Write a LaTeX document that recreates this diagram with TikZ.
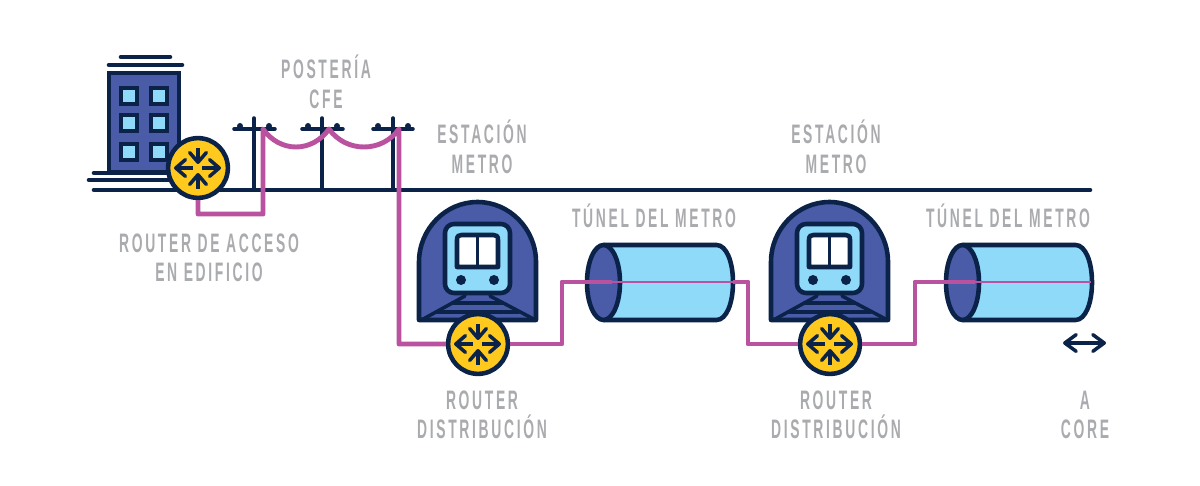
\documentclass[tikz,border=0pt]{standalone}
\usepackage{fontspec}
\usetikzlibrary{arrows.meta}
\newfontfamily\rotulofont[FakeStretch=0.52,LetterSpace=10]{Liberation Sans Bold}
\definecolor{marino}{HTML}{0B2349}
\definecolor{azul}{HTML}{4A5BA8}
\definecolor{celeste}{HTML}{8FD9F9}
\definecolor{ambar}{HTML}{FFC91D}
\definecolor{magenta}{HTML}{B9539F}
\definecolor{gris}{HTML}{A9ABAE}
\tikzset{
  trazo/.style={draw=marino,line width=2.6pt,line cap=round,line join=round},
  trazofino/.style={draw=marino,line width=2pt,line cap=round},
  ventana/.style={draw=marino,line width=2.6pt,fill=celeste},
  cable/.style={draw=magenta,line width=2.8pt,line join=round},
  cablefino/.style={draw=magenta,line width=1.6pt},
  rotulo/.style={align=center,text=gris,inner sep=0pt,font=\rotulofont\fontsize{15.2}{16.8}\selectfont},
  flechita/.style={draw=marino,line width=2pt,-{Straight Barb[length=5.5pt,width=9.5pt,round]}},
  flechadoble/.style={draw=marino,line width=2pt,{Straight Barb[length=6.5pt,width=9.5pt,round]}-{Straight Barb[length=6.5pt,width=9.5pt,round]}},
  router/.style={circle,draw=marino,fill=ambar,line width=2.6pt,minimum size=34pt,inner sep=0pt,
    path picture={
      \draw[flechita] ([shift={(0,-20)}]path picture bounding box.center) -- ([shift={(0,-4)}]path picture bounding box.center);
      \draw[flechita] ([shift={(0,21)}]path picture bounding box.center) -- ([shift={(0,5)}]path picture bounding box.center);
      \draw[flechita] ([shift={(-5,0)}]path picture bounding box.center) -- ([shift={(-24,0)}]path picture bounding box.center);
      \draw[flechita] ([shift={(4,0)}]path picture bounding box.center) -- ([shift={(23,0)}]path picture bounding box.center);
    }},
  estacion/.pic={
    \draw[trazo,fill=azul] (-58.5,320) -- (-58.5,262) .. controls (-58.5,229) and (-32,202) .. (0,202) .. controls (32,202) and (58.5,229) .. (58.5,262) -- (58.5,320) -- cycle;
    \draw[trazofino] (-12.5,296) -- (-56,320);
    \draw[trazofino] (12.5,296) -- (58,320);
    \draw[trazofino] (-25,303) -- (25,303);
    \draw[trazofino] (-41,312) -- (41,312);
    \draw[trazo,fill=celeste,rounded corners=0.18cm] (-32.5,224) rectangle (32.5,293);
    \draw[trazo,fill=white] (-20.5,267) -- (-20.5,240) .. controls (-20.5,236) and (-19,235) .. (-16,235) -- (16,235) .. controls (19,235) and (20.5,236) .. (20.5,240) -- (20.5,267) -- cycle;
    \draw[trazofino] (0,235) -- (0,267);
    \fill[marino] (-16.5,280) circle[radius=5];
    \fill[marino] (16.5,280) circle[radius=5];
  },
  tunel/.pic={
    \draw[trazo,fill=celeste] (0,245) -- (113,245) .. controls (123,245) and (129.5,262) .. (129.5,282.5) .. controls (129.5,303) and (123,320) .. (113,320) -- (0,320) -- cycle;
    \draw[trazo,fill=azul] (0,282.5) ellipse[x radius=16.5,y radius=37.5];
  }
}
\begin{document}
\begin{tikzpicture}[x=0.02cm,y=-0.02cm]
\useasboundingbox (0,0) rectangle (1200,486);
% edificio
\draw[trazo] (121,57) -- (170,57);
\draw[trazo] (109,65) -- (182,65);
\draw[trazo,fill=azul,line cap=butt,line join=miter] (109,73) rectangle (179,172);
\draw[ventana] (121,88) rectangle (137,104);
\draw[ventana] (151,88) rectangle (167,104);
\draw[ventana] (121,115) rectangle (137,131);
\draw[ventana] (151,115) rectangle (167,131);
\draw[ventana] (121,144) rectangle (137,160);
\draw[ventana] (151,144) rectangle (167,160);
\draw[trazo] (94,173) -- (175,173);
\draw[trazo] (89,180) -- (175,180);
% suelo
\draw[trazo] (94,190) -- (1090,190);
% postes
\draw[trazofino] (254,118) -- (254,190);
\draw[trazofino] (234,129) -- (275,129);
\fill[marino] (240,126) circle[radius=3];
\fill[marino] (269,126) circle[radius=3];
\draw[trazofino] (322,118) -- (322,190);
\draw[trazofino] (302,129) -- (343,129);
\fill[marino] (308,126) circle[radius=3];
\fill[marino] (337,126) circle[radius=3];
\draw[trazofino] (393,118) -- (393,190);
\draw[trazofino] (373,129) -- (413,129);
\fill[marino] (378,126) circle[radius=3];
\fill[marino] (408,126) circle[radius=3];
% estaciones y tuneles
\pic at (477.5,0) {estacion};
\pic at (829.5,0) {estacion};
\pic at (603.5,0) {tunel};
\pic at (962.5,0) {tunel};
% puntos de paso
\coordinate (bajadaA) at (198,214);
\coordinate (posteA) at (263,214);
\coordinate (cimaA) at (263,129);
\coordinate (cimaB) at (329,129);
\coordinate (cimaC) at (399,129);
\coordinate (bajadaC) at (399,344);
\coordinate (subidaA) at (562,344);
\coordinate (entradaA) at (562,282);
\coordinate (puntaA) at (612,282);
\coordinate (salidaA) at (733,282);
\coordinate (codoA) at (748,282);
\coordinate (bajadaD) at (748,344);
\coordinate (subidaB) at (915,344);
\coordinate (entradaB) at (915,282);
\coordinate (puntaB) at (975,282);
\coordinate (salidaB) at (1091,282);
\coordinate (coreA) at (1063,343);
\coordinate (coreB) at (1106,343);
% routers
\node[router] (routerEdificio) at (198,168) {};
\node[router] (routerEstacionA) at (478,344) {};
\node[router] (routerEstacionB) at (830,344) {};
% cable
\draw[cable] (routerEdificio) -- (bajadaA) -- (posteA) -- (cimaA) .. controls (280,153) and (312,153) .. (cimaB) .. controls (346,153) and (382,153) .. (cimaC) -- (bajadaC) -- (routerEstacionA);
\draw[cable] (routerEstacionA) -- (subidaA) -- (entradaA) -- (puntaA);
\draw[cablefino] (puntaA) -- (salidaA);
\draw[cable] (salidaA) -- (codoA) -- (bajadaD) -- (routerEstacionB);
\draw[cable] (routerEstacionB) -- (subidaB) -- (entradaB) -- (puntaB);
\draw[cablefino] (puntaB) -- (salidaB);
\draw[flechadoble] (coreA) -- (coreB);
% textos
\node[rotulo] (rotuloPosteria) at (326,82) {POSTERÍA\\CFE};
\node[rotulo] (rotuloEstacionA) at (482,147) {ESTACIÓN\\METRO};
\node[rotulo] (rotuloEstacionB) at (836,147) {ESTACIÓN\\METRO};
\node[rotulo] (rotuloTunelA) at (654,216) {TÚNEL DEL METRO};
\node[rotulo] (rotuloTunelB) at (1008,216) {TÚNEL DEL METRO};
\node[rotulo] (rotuloAcceso) at (209,258) {ROUTER DE ACCESO\\EN EDIFICIO};
\node[rotulo] (rotuloRouterA) at (482,415) {ROUTER\\DISTRIBUCIÓN};
\node[rotulo] (rotuloRouterB) at (836,415) {ROUTER\\DISTRIBUCIÓN};
\node[rotulo] (rotuloCore) at (1085,415) {A\\CORE};
\end{tikzpicture}
\end{document}
